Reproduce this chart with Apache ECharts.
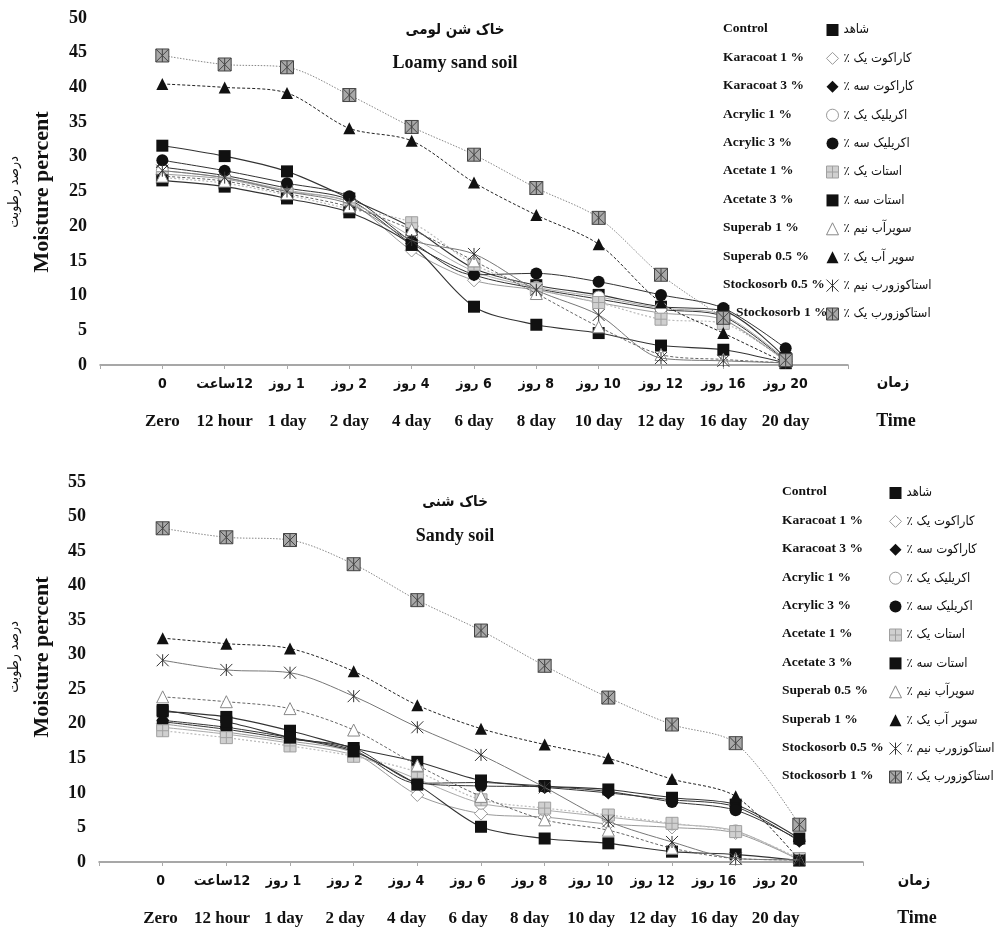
<!DOCTYPE html>
<html>
<head>
<meta charset="utf-8">
<script src="https://cdn.jsdelivr.net/npm/echarts@6/dist/echarts.min.js"></script>
<style>
html,body{margin:0;padding:0;background:#fff;}
#c1,#c2{width:999px;height:468px;}
</style>
</head>
<body>
<div id="c1"></div>
<div id="c2"></div>
<script>
// ---------- tick labels ----------
const xLabelsFa = ['0', 'ساعت\u200E12', 'روز\u200E 1', 'روز\u200E 2', 'روز\u200E 4', 'روز\u200E 6', 'روز\u200E 8', 'روز\u200E 10', 'روز\u200E 12', 'روز\u200E 16', 'روز\u200E 20'];
const xLabelsEn = ['Zero', '12 hour', '1 day', '2 day', '4 day', '6 day', '8 day', '10 day', '12 day', '16 day', '20 day'];
const yTicksLoamy = [0, 50, 5];
const yTicksSandy = [0, 55, 5];

// ---------- legend names ----------
const namesLoamy = ['Control', 'Karacoat 1 %', 'Karacoat 3 %', 'Acrylic 1 %', 'Acrylic 3 %', 'Acetate 1 %', 'Acetate 3 %', 'Superab 1 %', 'Superab 0.5 %', 'Stockosorb 0.5 %', 'Stockosorb 1 %'];
const namesSandy = ['Control', 'Karacoat 1 %', 'Karacoat 3 %', 'Acrylic 1 %', 'Acrylic 3 %', 'Acetate 1 %', 'Acetate 3 %', 'Superab 0.5 %', 'Superab 1 %', 'Stockosorb 0.5 %', 'Stockosorb 1 %'];
const namesFa = ['شاهد', '٪ کاراکوت یک', '٪ کاراکوت سه', '٪ اکریلیک یک', '٪ اکریلیک سه', '٪ استات یک', '٪ استات سه', '٪ سوپرآب نیم', '٪ سوپر آب یک', '٪ استاکوزورب نیم', '٪ استاکوزورب یک'];

// ---------- Loamy sand soil values ----------
const loamyControl     = [31.6, 30.1, 27.9, 24.0, 19.8, 13.9, 11.5, 10.1, 8.4, 7.8, 1.0];
const loamyKaracoat1   = [27.5, 26.8, 25.0, 23.5, 16.5, 12.2, 10.8, 9.0, 7.5, 6.5, 0.5];
const loamyKaracoat3   = [28.5, 27.3, 25.5, 23.8, 17.5, 13.0, 11.0, 9.5, 8.0, 7.0, 0.6];
const loamyAcrylic1    = [28.0, 27.0, 25.2, 23.5, 18.5, 13.5, 11.2, 9.8, 8.2, 7.2, 0.8];
const loamyAcrylic3    = [29.5, 28.0, 26.2, 24.3, 17.8, 13.0, 13.2, 12.0, 10.1, 8.2, 2.4];
const loamyAcetate1    = [27.0, 26.2, 24.5, 22.5, 20.5, 14.5, 11.0, 9.0, 6.6, 6.0, 0.5];
const loamyAcetate3    = [26.6, 25.7, 24.0, 22.0, 17.3, 8.4, 5.8, 4.6, 2.8, 2.2, 0.3];
const loamySuperabOpen = [27.2, 26.5, 24.7, 22.8, 19.5, 15.0, 10.3, 5.5, 1.5, 0.8, 0.3];
const loamySuperabFull = [40.5, 40.0, 39.2, 34.1, 32.3, 26.3, 21.6, 17.4, 9.0, 4.6, 0.3];
const loamyStocko05    = [28.0, 27.0, 25.0, 23.2, 18.0, 16.0, 10.8, 7.2, 1.0, 0.6, 0.3];
const loamyStocko1     = [44.6, 43.3, 42.9, 38.9, 34.3, 30.3, 25.5, 21.2, 13.0, 6.8, 0.7];

// ---------- Sandy soil values ----------
const sandyControl     = [21.8, 21.0, 19.0, 16.5, 14.5, 11.8, 11.0, 10.5, 9.3, 8.3, 3.4];
const sandyKaracoat1   = [20.0, 18.8, 17.5, 15.8, 9.7, 7.0, 6.5, 5.5, 5.0, 4.2, 0.3];
const sandyKaracoat3   = [20.5, 19.5, 18.0, 16.2, 11.4, 11.5, 10.8, 10.0, 9.0, 8.0, 3.0];
const sandyAcrylic1    = [19.5, 18.5, 17.2, 15.5, 12.0, 8.5, 7.5, 6.5, 5.5, 4.5, 0.3];
const sandyAcrylic3    = [20.3, 19.2, 17.8, 16.5, 11.5, 11.0, 10.9, 10.2, 8.7, 7.5, 3.2];
const sandyAcetate1    = [19.0, 18.0, 16.8, 15.3, 13.0, 9.0, 7.8, 6.8, 5.6, 4.4, 0.5];
const sandyAcetate3    = [22.0, 20.3, 18.0, 16.0, 11.2, 5.1, 3.4, 2.7, 1.5, 1.1, 0.2];
const sandySuperabOpen = [23.9, 23.2, 22.2, 19.1, 14.0, 9.5, 6.1, 4.6, 2.0, 0.5, 0.3];
const sandySuperabFull = [32.4, 31.6, 30.9, 27.6, 22.7, 19.3, 17.0, 15.0, 12.0, 9.5, 0.3];
const sandyStocko05    = [29.2, 27.8, 27.4, 24.0, 19.5, 15.5, 10.8, 5.9, 2.9, 0.5, 0.3];
const sandyStocko1     = [48.3, 47.0, 46.6, 43.1, 37.9, 33.5, 28.4, 23.8, 19.9, 17.2, 5.4];

const loamySeries = [loamyControl, loamyKaracoat1, loamyKaracoat3, loamyAcrylic1, loamyAcrylic3, loamyAcetate1, loamyAcetate3, loamySuperabOpen, loamySuperabFull, loamyStocko05, loamyStocko1];
const sandySeries = [sandyControl, sandyKaracoat1, sandyKaracoat3, sandyAcrylic1, sandyAcrylic3, sandyAcetate1, sandyAcetate3, sandySuperabOpen, sandySuperabFull, sandyStocko05, sandyStocko1];

// ---------- styles (per marker type) ----------
const PLUS = 'path://M0,0H10V10H0Z M5,0V10 M0,5H10';
const STAR = 'path://M0,0L10,10 M10,0L0,10 M5,0V10';
const BOXSTAR = 'path://M0,0H10V10H0Z M0,0L10,10 M10,0L0,10 M5,0V10';
const styles = [
  {symbol: 'rect', size: 12, fill: '#111', border: '#111', bw: 0, line: '#333', lw: 1.1, lt: 'solid'},
  {symbol: 'diamond', size: 13, fill: '#fff', border: '#999', bw: 1, line: '#9a9a9a', lw: 1, lt: 'solid'},
  {symbol: 'diamond', size: 13, fill: '#111', border: '#111', bw: 0, line: '#333', lw: 1, lt: 'solid'},
  {symbol: 'circle', size: 12, fill: '#fff', border: '#999', bw: 1, line: '#aaa', lw: 1, lt: 'solid'},
  {symbol: 'circle', size: 12, fill: '#111', border: '#111', bw: 0, line: '#333', lw: 1, lt: 'solid'},
  {symbol: PLUS, size: 12, fill: '#d0d0d0', border: '#a0a0a0', bw: 1, line: '#bbb', lw: 1.2, lt: [2, 2]},
  {symbol: 'rect', size: 12, fill: '#111', border: '#111', bw: 0, line: '#333', lw: 1.1, lt: 'solid'},
  {symbol: 'triangle', size: 12, fill: '#fff', border: '#888', bw: 1, line: '#666', lw: 1, lt: [3, 2]},
  {symbol: 'triangle', size: 12, fill: '#111', border: '#111', bw: 0, line: '#222', lw: 1, lt: [3, 2]},
  {symbol: STAR, size: 12, fill: 'rgba(0,0,0,0)', border: '#333', bw: 1, line: '#777', lw: 1, lt: 'solid'},
  {symbol: BOXSTAR, size: 13, fill: '#a8a8a8', border: '#444', bw: 1, line: '#888', lw: 1, lt: [1.5, 1.5]}
];

const SERIF = '"Liberation Serif", "Times New Roman", serif';
const FA = '"DejaVu Sans Condensed", "DejaVu Sans", sans-serif';

function buildOption(cfg) {
  const series = cfg.values.map((vals, k) => {
    const s = styles[k];
    return {
      name: cfg.names[k],
      type: 'line',
      xAxisIndex: 0,
      smooth: 0.3,
      symbol: s.symbol,
      symbolSize: s.size,
      symbolKeepAspect: true,
      showAllSymbol: true,
      z: 2 + k,
      itemStyle: {color: s.fill, borderColor: s.border, borderWidth: s.bw},
      lineStyle: {color: s.line, width: s.lw, type: s.lt},
      data: vals.map((v, i) => [i + 1, v])
    };
  });
  const legendData = cfg.names.map((n, k) => ({
    name: n, icon: styles[k].symbol,
    itemStyle: {color: styles[k].fill, borderColor: styles[k].border, borderWidth: styles[k].bw}
  }));
  const graphic = [
    {type: 'text', x: cfg.titleX, y: cfg.titleFaY, style: {text: cfg.titleFa, font: 'bold 15px ' + FA, fill: '#111', align: 'center', verticalAlign: 'middle'}},
    {type: 'text', x: cfg.titleX, y: cfg.titleEnY, style: {text: cfg.titleEn, font: 'bold 18px ' + SERIF, fill: '#111', align: 'center', verticalAlign: 'middle'}},
    {type: 'text', x: 42, y: cfg.yNameY, rotation: Math.PI / 2, style: {text: 'Moisture percent', font: 'bold 22px ' + SERIF, fill: '#111', align: 'center', verticalAlign: 'middle'}},
    {type: 'text', x: 14, y: cfg.yNameY, rotation: Math.PI / 2, style: {text: 'درصد رطوبت', font: '14px ' + FA, fill: '#111', align: 'center', verticalAlign: 'middle'}},
    {type: 'text', x: cfg.timeX, y: cfg.timeFaY, style: {text: 'زمان', font: 'bold 15px ' + FA, fill: '#111', align: 'center', verticalAlign: 'middle'}},
    {type: 'text', x: cfg.timeX + 3, y: cfg.timeEnY, style: {text: 'Time', font: 'bold 18px ' + SERIF, fill: '#111', align: 'center', verticalAlign: 'middle'}}
  ];
  cfg.names.forEach((n, k) => {
    graphic.push({type: 'text', x: cfg.legTextX + (k === 10 ? cfg.lastShift : 0), y: cfg.legTop + 6 + k * cfg.legPitch,
      style: {text: n, font: 'bold 13.5px ' + SERIF, fill: '#111', align: 'left', verticalAlign: 'middle'}});
  });
  return {
    animation: false,
    backgroundColor: '#fff',
    grid: cfg.grid,
    xAxis: [{
      type: 'value', min: 0, max: 12, interval: 1, position: 'bottom',
      axisLine: {show: true, lineStyle: {color: '#8a8a8a', width: 1.5}},
      axisTick: {show: true, length: 4, lineStyle: {color: '#aaa'}},
      splitLine: {show: false},
      axisLabel: {show: false}
    }, {
      // label axis: carries the two rows of tick labels
      type: 'value', min: 0, max: cfg.labelMax, interval: 1, position: 'bottom', offset: 0,
      axisLine: {show: false}, axisTick: {show: false}, splitLine: {show: false},
      axisLabel: {
        margin: 0, showMaxLabel: false,
        formatter: v => (v >= 1 && v <= 11) ? '{fa|' + xLabelsFa[v - 1] + '}\n{en|' + xLabelsEn[v - 1] + '}' : '',
        rich: {
          fa: {fontFamily: FA, fontWeight: 'bold', fontSize: 14, lineHeight: 38, color: '#111'},
          en: {fontFamily: SERIF, fontWeight: 'bold', fontSize: 17, lineHeight: 38, color: '#111'}
        }
      }
    }],
    yAxis: {
      type: 'value', min: cfg.yTicks[0], max: cfg.yTicks[1], interval: cfg.yTicks[2],
      axisLine: {show: false}, axisTick: {show: false}, splitLine: {show: false},
      axisLabel: {margin: 13, fontFamily: SERIF, fontWeight: 'bold', fontSize: 18, color: '#111'}
    },
    legend: {
      orient: 'vertical', left: cfg.legLeft, top: cfg.legTop, padding: 0,
      itemWidth: 12, itemHeight: 12, itemGap: cfg.legPitch - 14,
      data: legendData,
      formatter: name => namesFa[cfg.names.indexOf(name)],
      textStyle: {fontFamily: FA, fontSize: 13, lineHeight: 14, color: '#111'},
      selectedMode: false
    },
    graphic: graphic,
    series: series
  };
}

const c1 = echarts.init(document.getElementById('c1'));
c1.setOption(buildOption({
  names: namesLoamy, values: loamySeries, yTicks: yTicksLoamy, labelMax: 12,
  grid: {left: 100, top: 18, width: 748, height: 347},
  titleX: 455, titleFa: 'خاک شن لومی', titleFaY: 30, titleEn: 'Loamy sand soil', titleEnY: 63,
  yNameY: 192, timeX: 893, timeFaY: 383, timeEnY: 421,
  legLeft: 826, legTop: 23, legPitch: 28.4, legTextX: 723, lastShift: 13
}));
const c2 = echarts.init(document.getElementById('c2'));
c2.setOption(buildOption({
  names: namesSandy, values: sandySeries, yTicks: yTicksSandy, labelMax: 12.42,
  grid: {left: 99, top: 14, width: 764, height: 380},
  titleX: 455, titleFa: 'خاک شنی', titleFaY: 34, titleEn: 'Sandy soil', titleEnY: 68,
  yNameY: 189, timeX: 914, timeFaY: 413, timeEnY: 450,
  legLeft: 889, legTop: 18, legPitch: 28.4, legTextX: 782, lastShift: 0
}));
</script>
</body>
</html>
